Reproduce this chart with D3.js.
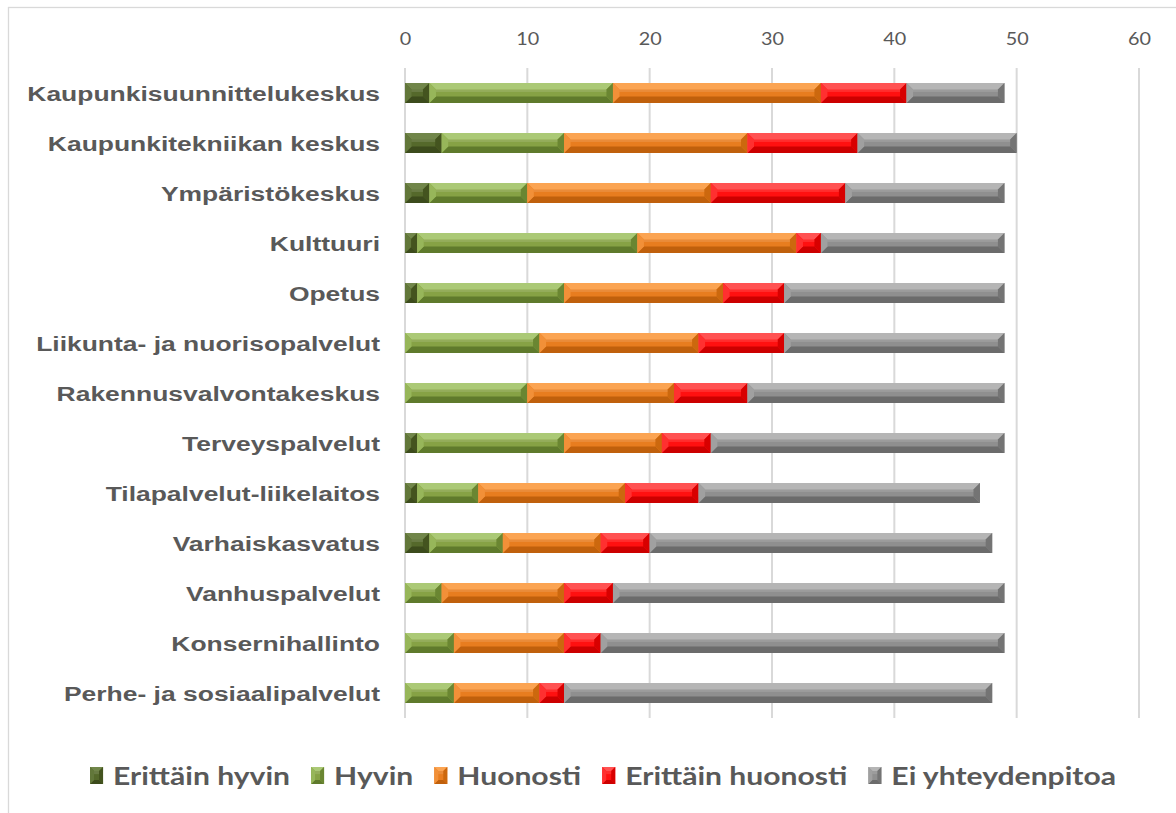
<!DOCTYPE html>
<html><head><meta charset="utf-8">
<script src="https://cdn.jsdelivr.net/npm/d3@7"></script>
<style>body{margin:0;background:#fff;overflow:hidden}</style>
</head><body>
<svg id="c" width="1176" height="813"></svg>
<script>
const categories = ["Kaupunkisuunnittelukeskus","Kaupunkitekniikan keskus","Ympäristökeskus","Kulttuuri","Opetus","Liikunta- ja nuorisopalvelut","Rakennusvalvontakeskus","Terveyspalvelut","Tilapalvelut-liikelaitos","Varhaiskasvatus","Vanhuspalvelut","Konsernihallinto","Perhe- ja sosiaalipalvelut"];
const seriesNames = ["Erittäin hyvin","Hyvin","Huonosti","Erittäin huonosti","Ei yhteydenpitoa"];
const erittainHyvin    = [2, 3, 2, 1, 1, 0, 0, 1, 1, 2, 0, 0, 0];
const hyvin            = [15,10, 8,18,12,11,10,12, 5, 6, 3, 4, 4];
const huonosti         = [17,15,15,13,13,13,12, 8,12, 8,10, 9, 7];
const erittainHuonosti = [7, 9,11, 2, 5, 7, 6, 4, 6, 4, 4, 3, 2];
const eiYhteydenpitoa  = [8,13,13,15,18,18,21,24,23,28,32,33,35];
const tickValues = [0,10,20,30,40,50,60];

const seriesValues = [erittainHyvin, hyvin, huonosti, erittainHuonosti, eiYhteydenpitoa];
// palette: [top light, face, bottom dark, left, right]
const palette = [
  {top:"#71864a", face:"#55692b", bot:"#3c4b1c", left:"#62773a", right:"#44541f"},
  {top:"#abc976", face:"#86a245", bot:"#5f7a2c", left:"#97b65a", right:"#6a8632"},
  {top:"#fba452", face:"#e87d1f", bot:"#c0600c", left:"#f29038", right:"#cc680e"},
  {top:"#ff5252", face:"#ff1010", bot:"#cc0000", left:"#ff3030", right:"#d80000"},
  {top:"#b5b5b5", face:"#8f8f8f", bot:"#6b6b6b", left:"#a0a0a0", right:"#747474"}
];

const table = categories.map((c,i)=>{
  const o = {category:c};
  seriesNames.forEach((s,j)=>o[s]=seriesValues[j][i]);
  return o;
});

const svg = d3.select("#c");
svg.append("rect").attr("x",8.5).attr("y",7.5).attr("width",1300).attr("height",1000)
  .attr("fill","none").attr("stroke","#d9d9d9").attr("stroke-width",1.3);

const x = d3.scaleLinear().domain([0,60]).range([405,1139]);
const y = d3.scaleBand().domain(categories).range([68,718]).paddingInner(0.6).paddingOuter(0.3);

// gridlines
svg.append("g").selectAll("line").data(tickValues).join("line")
  .attr("x1",d=>x(d)).attr("x2",d=>x(d)).attr("y1",68).attr("y2",718)
  .attr("stroke","#d9d9d9").attr("stroke-width",2);

// top axis labels
const xAxis = d3.axisTop(x).tickValues(tickValues).tickSize(0).tickPadding(0);
const ax = svg.append("g").attr("transform","translate(0,45)").call(xAxis);
ax.select(".domain").remove();
ax.selectAll("text").attr("font-family","Lato, 'Open Sans', sans-serif").attr("font-size",18)
  .attr("fill","#595959").attr("transform","scale(1.1,1)");

// category labels
const yAxis = d3.axisLeft(y).tickSize(0).tickPadding(0);
const ay = svg.append("g").attr("transform","translate(380,0)").call(yAxis);
ay.select(".domain").remove();
ay.selectAll(".tick text").attr("font-family","'Liberation Sans', Arial, sans-serif")
  .attr("font-weight","bold").attr("font-size",21).attr("fill","#595959")
  .attr("x",0).attr("dy","0.36em").attr("transform","scale(1.26,1)");

function bevel(g, x0, x1, y0, h, p, dmax){
  const w = x1-x0; if (w<=0) return;
  const y1 = y0+h;
  const d = Math.min(dmax, w/2, h/2);
  g.append("rect").attr("x",x0).attr("y",y0).attr("width",w).attr("height",h).attr("fill",p.face);
  g.append("polygon").attr("points",[[x0,y0],[x1,y0],[x1-d,y0+d],[x0+d,y0+d]].join(" ")).attr("fill",p.top);
  g.append("polygon").attr("points",[[x0,y1],[x1,y1],[x1-d,y1-d],[x0+d,y1-d]].join(" ")).attr("fill",p.bot);
  g.append("polygon").attr("points",[[x0,y0],[x0+d,y0+d],[x0+d,y1-d],[x0,y1]].join(" ")).attr("fill",p.left);
  g.append("polygon").attr("points",[[x1,y0],[x1-d,y0+d],[x1-d,y1-d],[x1,y1]].join(" ")).attr("fill",p.right);
  if (w > 2*d) g.append("rect").attr("x",x0+d).attr("y",y0+d).attr("width",w-2*d).attr("height",Math.max(1,(h-2*d)*0.35))
    .attr("fill","#ffffff").attr("opacity",0.12);
}

const stack = d3.stack().keys(seriesNames)(table);
const bars = svg.append("g");
stack.forEach((layer,j)=>{
  const g = bars.append("g");
  layer.forEach(seg=>{
    const cat = seg.data.category;
    const sg = g.append("g");
    bevel(sg, x(seg[0]), x(seg[1]), y(cat), y.bandwidth(), palette[j], 6.5);
  });
});

// legend
const legendY = 776;
let cx = 0;
const tmp = svg.append("g");
seriesNames.forEach((s,j)=>{
  const ig = tmp.append("g");
  bevel(ig, cx, cx+13, legendY-9, 17, palette[j], 4);
  const t = ig.append("text").attr("x",0).attr("y",legendY).attr("dy","0.36em")
    .attr("font-family","Lato, 'Open Sans', sans-serif").attr("font-weight","bold").attr("font-size",25.5)
    .attr("fill","#595959").attr("transform",`translate(${cx+23},0) scale(1.18,1)`).text(s);
  const tw = t.node().getComputedTextLength()*1.18;
  cx += 23 + tw + 21;
});
const total = cx - 21;
tmp.attr("transform",`translate(${603 - total/2},0)`);
</script>
</body></html>
